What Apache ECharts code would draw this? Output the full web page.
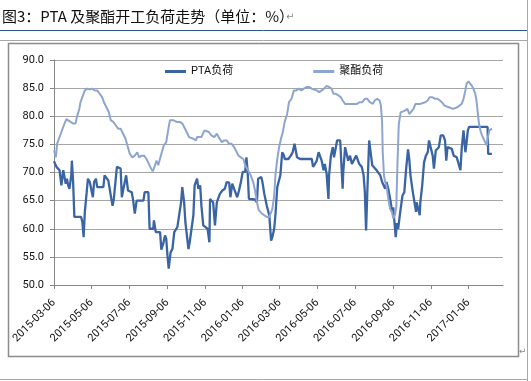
<!DOCTYPE html>
<html><head><meta charset="utf-8">
<script src="https://cdn.jsdelivr.net/npm/echarts@6/dist/echarts.min.js"></script>
<style>html,body{margin:0;padding:0;background:#fff;}#c{width:531px;height:381px;}</style>
</head><body><div id="c"></div>
<script>
const titleText = '图3：PTA 及聚酯开工负荷走势（单位：%）';
const seriesNames = ['PTA负荷', '聚酯负荷'];
const tickLabels = ['2015-03-06','2015-05-06','2015-07-06','2015-09-06','2015-11-06','2016-01-06','2016-03-06','2016-05-06','2016-07-06','2016-09-06','2016-11-06','2017-01-06'];
const xMin = '2015-03-06', xMax = '2017-03-03';
const yMin = 50, yMax = 90, yStep = 5;

const ptaDates = ['2015-03-06','2015-03-10','2015-03-13','2015-03-15','2015-03-18','2015-03-21','2015-03-23','2015-03-25','2015-03-27','2015-03-29','2015-03-31','2015-04-03','2015-04-04','2015-04-06','2015-04-08','2015-04-19','2015-04-21','2015-04-23','2015-04-25','2015-04-28','2015-04-30','2015-05-03','2015-05-06','2015-05-08','2015-05-10','2015-05-13','2015-05-15','2015-05-25','2015-05-27','2015-05-30','2015-06-02','2015-06-04','2015-06-07','2015-06-09','2015-06-11','2015-06-14','2015-06-16','2015-06-19','2015-06-22','2015-06-24','2015-06-26','2015-06-29','2015-07-01','2015-07-04','2015-07-07','2015-07-10','2015-07-12','2015-07-15','2015-07-18','2015-07-29','2015-07-31','2015-08-06','2015-08-08','2015-08-14','2015-08-15','2015-08-18','2015-08-20','2015-08-25','2015-08-27','2015-08-30','2015-09-02','2015-09-04','2015-09-06','2015-09-08','2015-09-11','2015-09-14','2015-09-17','2015-09-20','2015-09-22','2015-09-25','2015-09-28','2015-09-30','2015-10-03','2015-10-05','2015-10-10','2015-10-12','2015-10-15','2015-10-18','2015-10-20','2015-10-24','2015-10-26','2015-10-29','2015-10-31','2015-11-03','2015-11-06','2015-11-10','2015-11-13','2015-11-14','2015-11-16','2015-11-19','2015-11-22','2015-11-25','2015-11-27','2015-11-30','2015-12-04','2015-12-08','2015-12-11','2015-12-15','2015-12-17','2015-12-20','2015-12-23','2015-12-25','2015-12-28','2015-12-31','2016-01-03','2016-01-06','2016-01-10','2016-01-12','2016-01-14','2016-01-16','2016-01-26','2016-01-29','2016-01-31','2016-02-05','2016-02-07','2016-02-10','2016-02-14','2016-02-18','2016-02-21','2016-02-23','2016-02-26','2016-02-28','2016-03-02','2016-03-05','2016-03-07','2016-03-10','2016-03-13','2016-03-14','2016-03-20','2016-03-24','2016-03-27','2016-03-30','2016-04-01','2016-04-03','2016-04-08','2016-04-27','2016-04-29','2016-05-02','2016-05-05','2016-05-08','2016-05-10','2016-05-13','2016-05-16','2016-05-18','2016-05-21','2016-05-24','2016-05-25','2016-05-28','2016-05-31','2016-06-02','2016-06-05','2016-06-07','2016-06-12','2016-06-13','2016-06-16','2016-06-17','2016-06-20','2016-06-23','2016-06-25','2016-06-28','2016-07-01','2016-07-04','2016-07-08','2016-07-10','2016-07-13','2016-07-17','2016-07-20','2016-07-22','2016-07-24','2016-07-26','2016-07-29','2016-08-01','2016-08-03','2016-08-06','2016-08-10','2016-08-13','2016-08-16','2016-08-19','2016-08-24','2016-08-26','2016-08-29','2016-09-02','2016-09-04','2016-09-06','2016-09-08','2016-09-10','2016-09-12','2016-09-14','2016-09-16','2016-09-18','2016-09-21','2016-09-24','2016-09-27','2016-09-30','2016-10-02','2016-10-04','2016-10-07','2016-10-10','2016-10-13','2016-10-14','2016-10-17','2016-10-19','2016-10-20','2016-10-23','2016-10-26','2016-10-29','2016-11-01','2016-11-03','2016-11-06','2016-11-09','2016-11-11','2016-11-14','2016-11-17','2016-11-19','2016-11-22','2016-11-26','2016-11-29','2016-12-01','2016-12-03','2016-12-06','2016-12-10','2016-12-13','2016-12-15','2016-12-18','2016-12-21','2016-12-24','2016-12-26','2016-12-29','2017-01-01','2017-01-03','2017-01-05','2017-01-07','2017-02-06','2017-02-07','2017-02-13'];
const ptaValues = [72.0,71.0,70.7,70.4,67.7,70.4,70.5,68.0,68.9,67.7,67.1,69.5,72.1,68.3,62.1,62.1,61.2,58.5,63.0,66.5,68.9,68.3,68.0,65.6,68.3,68.9,67.4,67.4,69.5,69.2,68.6,68.3,65.3,64.1,65.3,65.0,71.0,71.3,70.7,65.6,66.8,67.1,69.5,66.8,66.5,66.5,65.3,62.7,65.0,65.0,66.5,66.5,60.0,60.0,61.5,59.4,59.5,59.4,56.3,57.3,58.8,58.2,55.2,52.9,55.8,56.4,59.4,59.7,60.3,60.6,64.7,67.4,64.7,61.2,56.4,57.6,60.0,62.4,67.7,68.9,67.1,67.7,64.1,60.6,60.3,60.0,57.6,65.3,65.0,64.7,60.6,64.7,65.3,66.2,66.8,67.1,68.3,68.2,65.6,68.0,68.2,66.5,65.6,66.8,68.3,70.1,70.1,72.7,70.1,65.3,65.2,64.7,68.9,69.2,68.3,66.2,64.1,62.4,57.9,58.5,60.0,62.4,67.4,67.7,69.5,73.6,73.0,72.4,72.4,73.0,73.6,75.1,75.1,72.7,72.4,72.4,71.0,71.5,72.1,73.6,73.9,72.1,70.4,71.5,69.8,65.3,69.5,73.0,74.5,72.7,74.5,75.7,75.7,73.6,67.1,70.1,74.5,74.2,72.1,73.0,71.5,71.5,73.0,73.0,71.5,71.0,69.5,66.5,59.7,66.5,75.7,76.0,71.3,71.0,70.4,70.4,69.5,68.3,67.1,68.3,67.1,64.7,63.0,63.8,61.2,58.5,61.0,60.0,61.8,63.5,65.9,66.5,70.7,74.1,72.4,69.5,67.1,65.0,63.0,64.7,64.7,62.4,64.7,67.7,71.8,73.0,73.6,75.7,75.4,73.0,70.7,73.9,73.9,74.5,76.6,76.6,75.7,72.1,74.5,74.2,74.2,73.0,73.0,72.7,72.7,70.4,74.2,77.5,73.6,75.4,77.5,78.1,78.1,73.3,73.3];

const polyDates = ['2015-03-06','2015-03-09','2015-03-11','2015-03-14','2015-03-18','2015-03-22','2015-03-26','2015-03-29','2015-04-02','2015-04-06','2015-04-10','2015-04-12','2015-04-16','2015-04-18','2015-04-22','2015-04-25','2015-04-29','2015-05-03','2015-05-07','2015-05-11','2015-05-15','2015-05-19','2015-05-23','2015-05-26','2015-05-30','2015-06-03','2015-06-06','2015-06-10','2015-06-14','2015-06-18','2015-06-22','2015-06-26','2015-06-30','2015-07-03','2015-07-07','2015-07-11','2015-07-15','2015-07-19','2015-07-22','2015-07-26','2015-07-30','2015-08-03','2015-08-06','2015-08-09','2015-08-13','2015-08-16','2015-08-19','2015-08-22','2015-08-25','2015-08-27','2015-08-31','2015-09-04','2015-09-07','2015-09-10','2015-09-15','2015-09-21','2015-09-26','2015-09-30','2015-10-03','2015-10-07','2015-10-11','2015-10-14','2015-10-18','2015-10-22','2015-10-24','2015-10-27','2015-10-31','2015-11-05','2015-11-08','2015-11-12','2015-11-16','2015-11-21','2015-11-25','2015-11-28','2015-12-03','2015-12-07','2015-12-11','2015-12-15','2015-12-19','2015-12-23','2015-12-26','2015-12-30','2016-01-03','2016-01-07','2016-01-10','2016-01-13','2016-01-16','2016-01-19','2016-01-23','2016-01-26','2016-01-29','2016-02-01','2016-02-06','2016-02-10','2016-02-14','2016-02-18','2016-02-21','2016-02-23','2016-02-26','2016-02-28','2016-03-02','2016-03-05','2016-03-08','2016-03-11','2016-03-14','2016-03-18','2016-03-21','2016-03-25','2016-03-29','2016-04-02','2016-04-06','2016-04-10','2016-04-14','2016-04-19','2016-04-23','2016-04-27','2016-04-30','2016-05-05','2016-05-09','2016-05-13','2016-05-17','2016-05-21','2016-05-25','2016-05-29','2016-06-01','2016-06-05','2016-06-09','2016-06-13','2016-06-16','2016-06-20','2016-06-28','2016-07-09','2016-07-14','2016-07-18','2016-07-22','2016-07-26','2016-07-30','2016-08-04','2016-08-07','2016-08-11','2016-08-15','2016-08-17','2016-08-19','2016-08-20','2016-08-22','2016-08-24','2016-08-26','2016-08-29','2016-09-01','2016-09-04','2016-09-06','2016-09-09','2016-09-11','2016-09-13','2016-09-15','2016-09-18','2016-09-21','2016-09-25','2016-09-29','2016-10-02','2016-10-05','2016-10-09','2016-10-12','2016-10-15','2016-10-20','2016-10-23','2016-10-28','2016-11-01','2016-11-04','2016-11-08','2016-11-10','2016-11-13','2016-11-17','2016-11-20','2016-11-24','2016-11-28','2016-12-01','2016-12-05','2016-12-08','2016-12-12','2016-12-15','2016-12-19','2016-12-22','2016-12-26','2016-12-29','2017-01-01','2017-01-03','2017-01-06','2017-01-09','2017-01-11','2017-01-14','2017-01-17','2017-01-19','2017-01-21','2017-01-23','2017-01-26','2017-01-28','2017-01-30','2017-02-02','2017-02-05','2017-02-06','2017-02-09','2017-02-11','2017-02-13'];
const polyValues = [73.9,72.7,75.1,76.0,77.2,78.4,79.5,79.4,79.0,78.7,78.7,79.8,81.3,82.5,83.7,84.6,84.9,84.8,84.9,84.6,84.6,84.0,83.4,82.5,81.6,80.7,79.3,79.0,78.4,77.8,77.8,76.9,76.0,74.8,73.3,72.7,73.0,73.6,72.7,73.0,73.0,72.4,71.7,71.0,70.2,71.0,72.1,71.3,71.4,73.3,74.8,75.4,77.5,79.3,79.3,79.0,79.0,78.7,78.1,77.2,76.3,76.3,76.0,75.7,76.3,76.0,76.3,77.5,77.5,77.2,76.6,76.3,76.9,76.3,75.4,75.7,75.7,75.1,75.1,74.5,73.9,73.0,72.7,72.4,71.3,70.7,70.4,69.5,68.3,66.8,64.7,63.3,62.7,62.4,62.1,62.1,62.4,63.5,65.9,69.5,72.4,74.5,76.0,77.2,79.0,80.4,82.5,83.1,84.6,84.6,84.9,84.6,84.9,85.2,85.2,84.9,84.9,84.6,84.3,84.6,84.9,85.4,85.2,84.9,84.0,84.0,83.7,83.4,82.8,82.2,82.2,82.2,82.5,82.5,83.1,83.1,82.5,82.2,82.8,83.1,82.8,81.9,79.0,73.6,69.5,68.3,67.7,65.3,63.5,63.0,61.8,62.5,64.0,72.0,78.5,80.7,81.0,81.0,81.3,80.4,80.7,81.3,82.2,82.2,82.2,82.5,82.5,82.8,83.4,83.4,83.7,83.1,83.1,83.2,82.5,81.9,82.2,81.6,81.6,81.3,81.3,81.6,81.6,82.2,83.1,84.6,85.8,86.2,86.1,85.5,84.9,84.0,82.8,80.7,78.7,77.2,76.6,76.3,75.4,74.8,76.0,77.5,77.8,77.8];

function toTs(s) { const p = s.split('-').map(Number); return Date.UTC(p[0], p[1] - 1, p[2]); }
function fmt(v) { return new Date(v).toISOString().slice(0, 10); }
const latin = "Roboto, 'Noto Sans CJK SC', sans-serif";

const chart = echarts.init(document.getElementById('c'), null, { renderer: 'canvas' });
chart.setOption({
  animation: false,
  backgroundColor: '#ffffff',
  graphic: [
    { type: 'line', silent: true, shape: { x1: 0, y1: 30.5, x2: 527, y2: 30.5 }, style: { stroke: '#2F5A86', lineWidth: 1 } },
    { type: 'line', silent: true, shape: { x1: 0, y1: 40.5, x2: 527, y2: 40.5 }, style: { stroke: '#A8A8A8', lineWidth: 1 } },
    { type: 'line', silent: true, shape: { x1: 527.5, y1: 0, x2: 527.5, y2: 381 }, style: { stroke: '#A8A8A8', lineWidth: 1 } },
    { type: 'line', silent: true, shape: { x1: 0, y1: 379.5, x2: 527, y2: 379.5 }, style: { stroke: '#A8A8A8', lineWidth: 1 } },
    { type: 'rect', silent: true, shape: { x: 8.5, y: 43.5, width: 510, height: 313 }, style: { fill: null, stroke: '#8C8C8C', lineWidth: 1.5 } },
    { type: 'text', silent: true, x: 2, y: 16, style: { text: titleText, font: "15px 'Noto Sans CJK SC'", fill: '#111', verticalAlign: 'middle' } },
    { type: 'text', silent: true, x: 286, y: 17, style: { text: '↵', font: "10px 'DejaVu Sans'", fill: '#888', verticalAlign: 'middle' } },
    { type: 'text', silent: true, x: 519, y: 352, style: { text: '↵', font: "9px 'DejaVu Sans'", fill: '#888', verticalAlign: 'middle' } }
  ],
  legend: {
    left: 165, top: 66, padding: 0, icon: 'rect', itemWidth: 21, itemHeight: 3, itemGap: 80,
    textStyle: { fontSize: 11, color: '#111', fontFamily: latin },
    data: seriesNames
  },
  grid: { left: 54, right: 28, top: 60, bottom: 96 },
  xAxis: {
    type: 'value', min: toTs(xMin), max: toTs(xMax),
    splitLine: { show: false },
    axisLine: { lineStyle: { color: '#868686' } },
    axisTick: { show: true, length: 4, customValues: tickLabels.map(toTs), lineStyle: { color: '#868686' } },
    axisLabel: { customValues: tickLabels.map(toTs), formatter: fmt, rotate: 45, fontSize: 11, color: '#111', fontFamily: latin, margin: 16 }
  },
  yAxis: {
    type: 'value', min: yMin, max: yMax, interval: yStep,
    axisLine: { show: true, lineStyle: { color: '#868686' } },
    axisTick: { show: true, length: 4, lineStyle: { color: '#868686' } },
    splitLine: { lineStyle: { color: '#A6A6A6' } },
    axisLabel: { formatter: v => v.toFixed(1), fontSize: 11, color: '#111', fontFamily: latin, margin: 10 }
  },
  series: [
    { name: seriesNames[0], type: 'line', symbol: 'none', color: '#3A64A3', lineStyle: { width: 2.3, color: '#3A64A3' },
      data: ptaDates.map((d, i) => [toTs(d), ptaValues[i]]) },
    { name: seriesNames[1], type: 'line', symbol: 'none', color: '#8EA5CF', lineStyle: { width: 2, color: '#8EA5CF' },
      data: polyDates.map((d, i) => [toTs(d), polyValues[i]]) }
  ]
});
</script>
</body></html>
